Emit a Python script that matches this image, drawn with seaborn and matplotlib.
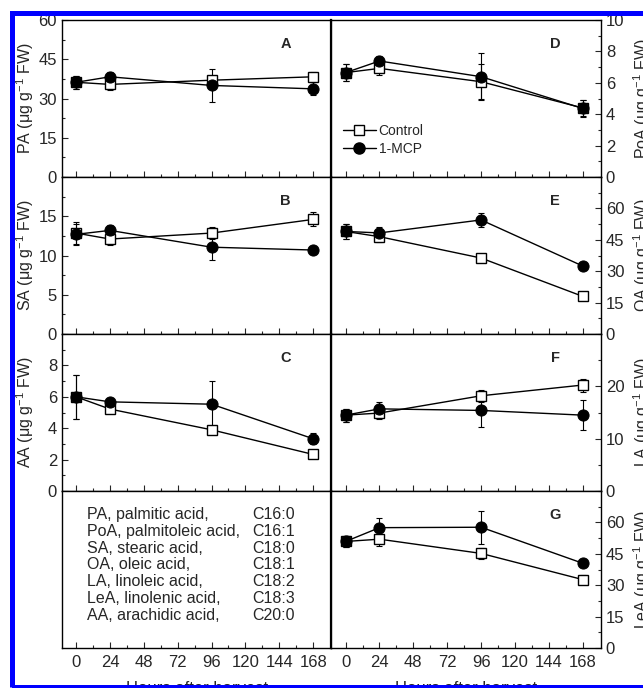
import matplotlib
matplotlib.use("Agg")
import matplotlib.pyplot as plt
from matplotlib.patches import Rectangle
from matplotlib.lines import Line2D
import seaborn as sns
import numpy as np

sns.set_style("ticks")
plt.rcParams['font.family'] = ['Liberation Sans', 'DejaVu Sans']
plt.rcParams['mathtext.default'] = 'regular'

# hours after harvest
hours = [0, 24, 96, 168]

# fatty acid contents (ug g-1 FW)
pa_ctrl = [36.2, 35.4, 37.0, 38.3]
pa_ctrl_err = [2.5, 2.0, 1.5, 2.0]
pa_mcp = [36.2, 38.3, 35.0, 33.7]
pa_mcp_err = [2.5, 2.0, 6.2, 2.5]

poa_ctrl = [6.65, 6.92, 6.07, 4.4]
poa_ctrl_err = [0.55, 0.4, 1.1, 0.5]
poa_mcp = [6.65, 7.39, 6.39, 4.37]
poa_mcp_err = [0.55, 0.35, 1.5, 0.53]

sa_ctrl = [12.86, 12.1, 12.86, 14.6]
sa_ctrl_err = [1.35, 0.7, 0.8, 0.9]
sa_mcp = [12.7, 13.2, 11.06, 10.7]
sa_mcp_err = [1.35, 0.7, 1.6, 0.3]

oa_ctrl = [49.0, 46.5, 36.3, 18.0]
oa_ctrl_err = [3.4, 2.7, 1.5, 0.8]
oa_mcp = [49.0, 48.3, 54.5, 32.5]
oa_mcp_err = [3.4, 2.7, 3.4, 1.5]

aa_ctrl = [6.0, 5.22, 3.9, 2.33]
aa_ctrl_err = [1.4, 0.25, 0.2, 0.2]
aa_mcp = [6.0, 5.68, 5.53, 3.33]
aa_mcp_err = [1.4, 0.25, 1.45, 0.35]

la_ctrl = [14.5, 14.9, 18.2, 20.25]
la_ctrl_err = [1.25, 1.1, 1.1, 1.25]
la_mcp = [14.5, 15.7, 15.4, 14.5]
la_mcp_err = [1.25, 1.25, 3.1, 2.8]

lea_ctrl = [50.9, 52.0, 45.2, 32.7]
lea_ctrl_err = [2.8, 3.4, 2.8, 2.0]
lea_mcp = [50.9, 57.5, 57.7, 40.5]
lea_mcp_err = [2.8, 4.7, 7.8, 1.5]

acid_notes = ["PA, palmitic acid,", "PoA, palmitoleic acid,", "SA, stearic acid,",
              "OA, oleic acid,", "LA, linoleic acid,", "LeA, linolenic acid,",
              "AA, arachidic acid,"]
acid_codes = ["C16:0", "C16:1", "C18:0", "C18:1", "C18:2", "C18:3", "C20:0"]

panels = [
    # (row, col, letter, ylabel, ctrl, ctrl_err, mcp, mcp_err, ymax, yticks, minor)
    (0, 0, "A", "PA", pa_ctrl, pa_ctrl_err, pa_mcp, pa_mcp_err, 60, [0, 15, 30, 45, 60], 7.5),
    (1, 0, "B", "SA", sa_ctrl, sa_ctrl_err, sa_mcp, sa_mcp_err, 20, [0, 5, 10, 15], 2.5),
    (2, 0, "C", "AA", aa_ctrl, aa_ctrl_err, aa_mcp, aa_mcp_err, 10, [0, 2, 4, 6, 8], 1),
    (0, 1, "D", "PoA", poa_ctrl, poa_ctrl_err, poa_mcp, poa_mcp_err, 10, [0, 2, 4, 6, 8, 10], 1),
    (1, 1, "E", "OA", oa_ctrl, oa_ctrl_err, oa_mcp, oa_mcp_err, 75, [0, 15, 30, 45, 60], 7.5),
    (2, 1, "F", "LA", la_ctrl, la_ctrl_err, la_mcp, la_mcp_err, 30, [0, 10, 20], 5),
    (3, 1, "G", "LeA", lea_ctrl, lea_ctrl_err, lea_mcp, lea_mcp_err, 75, [0, 15, 30, 45, 60], 7.5),
]

fig = plt.figure(figsize=(6.43, 6.88), dpi=100)
gs = fig.add_gridspec(4, 2, left=0.0964, right=0.9347, top=0.9709, bottom=0.0581,
                      hspace=0, wspace=0)
axes = {}
for r in range(4):
    for c in range(2):
        axes[(r, c)] = fig.add_subplot(gs[r, c])


def style_x(ax, bottom_row):
    ax.set_xlim(-10, 181)
    ax.set_xticks(np.arange(0, 169, 24))
    ax.set_xticks(np.arange(0, 169, 12), minor=True)
    ax.tick_params(axis='x', which='both', direction='in', top=False,
                   labelbottom=bottom_row, labelsize=12, pad=5)
    ax.tick_params(axis='x', which='major', length=4, width=0.8)
    ax.tick_params(axis='x', which='minor', length=2.5, width=0.8)
    if bottom_row:
        ax.set_xlabel("Hours after harvest", fontsize=12, labelpad=8)


for (r, c, letter, name, ctrl, ctrl_err, mcp, mcp_err, ymax, yticks, minor) in panels:
    ax = axes[(r, c)]
    ax.errorbar(hours, ctrl, yerr=ctrl_err, fmt='none', ecolor='black',
                elinewidth=0.8, capsize=2.5, capthick=0.8, zorder=2)
    ax.errorbar(hours, mcp, yerr=mcp_err, fmt='none', ecolor='black',
                elinewidth=0.8, capsize=2.5, capthick=0.8, zorder=2)
    sns.lineplot(x=hours, y=ctrl, ax=ax, color='black', lw=1, marker='s',
                 markersize=7, markerfacecolor='white', markeredgecolor='black',
                 markeredgewidth=1, label="Control", zorder=3)
    sns.lineplot(x=hours, y=mcp, ax=ax, color='black', lw=1, marker='o',
                 markersize=8, markerfacecolor='black', markeredgecolor='black',
                 label="1-MCP", zorder=4)
    if ax.get_legend() is not None:
        ax.get_legend().remove()
    ax.set_ylim(0, ymax)
    ax.set_yticks(yticks)
    ax.set_yticks(np.arange(0, ymax + 0.01, minor), minor=True)
    ax.tick_params(axis='y', which='both', direction='in', labelsize=12)
    ax.tick_params(axis='y', which='major', length=4, width=0.8)
    ax.tick_params(axis='y', which='minor', length=2.5, width=0.8)
    label = name + r" ($\mu$g g$^{-1}$ FW)"
    if c == 1:
        ax.yaxis.tick_right()
        ax.yaxis.set_label_position('right')
        ax.set_ylabel(label, fontsize=11.5)
        ax.yaxis.set_label_coords(1.112, 0.5)
    else:
        ax.set_ylabel(label, fontsize=11.5)
        ax.yaxis.set_label_coords(-0.098, 0.5)
    style_x(ax, r == 3)
    ax.text(0.83, 0.85, letter, transform=ax.transAxes, ha='center', va='center',
            fontsize=10.5, fontweight='bold')

# text panel with fatty acid names
ax = axes[(3, 0)]
ax.set_ylim(0, 1)
ax.set_yticks([])
style_x(ax, True)
for i, (note, code) in enumerate(zip(acid_notes, acid_codes)):
    y = 0.853 - i * 0.108
    ax.text(0.093, y, note, transform=ax.transAxes, ha='left', va='center', fontsize=11.5)
    ax.text(0.707, y, code, transform=ax.transAxes, ha='left', va='center', fontsize=11.5)

for a in axes.values():
    for s in a.spines.values():
        s.set_linewidth(1.0)
        s.set_color('black')
for r in range(4):
    axes[(r, 0)].spines['right'].set_linewidth(1.6)

# legend in panel D
handles = [
    Line2D([], [], color='black', lw=1, marker='s', markersize=7,
           markerfacecolor='white', markeredgecolor='black'),
    Line2D([], [], color='black', lw=1, marker='o', markersize=8,
           markerfacecolor='black'),
]
axes[(0, 1)].legend(handles, ["Control", "1-MCP"], loc='lower left',
                    bbox_to_anchor=(0.01, 0.08), frameon=False, fontsize=10,
                    handlelength=2.4, handletextpad=0.2, labelspacing=0.3,
                    borderaxespad=0.2)

# blue scan border
fig.add_artist(Rectangle((12 / 643, 1 - 686.5 / 688), 1.2, (686.5 - 13) / 688,
                         transform=fig.transFigure, fill=False, edgecolor='#0000ff',
                         lw=3.6, zorder=20, clip_on=False))

fig.savefig("out.png", dpi=100)
